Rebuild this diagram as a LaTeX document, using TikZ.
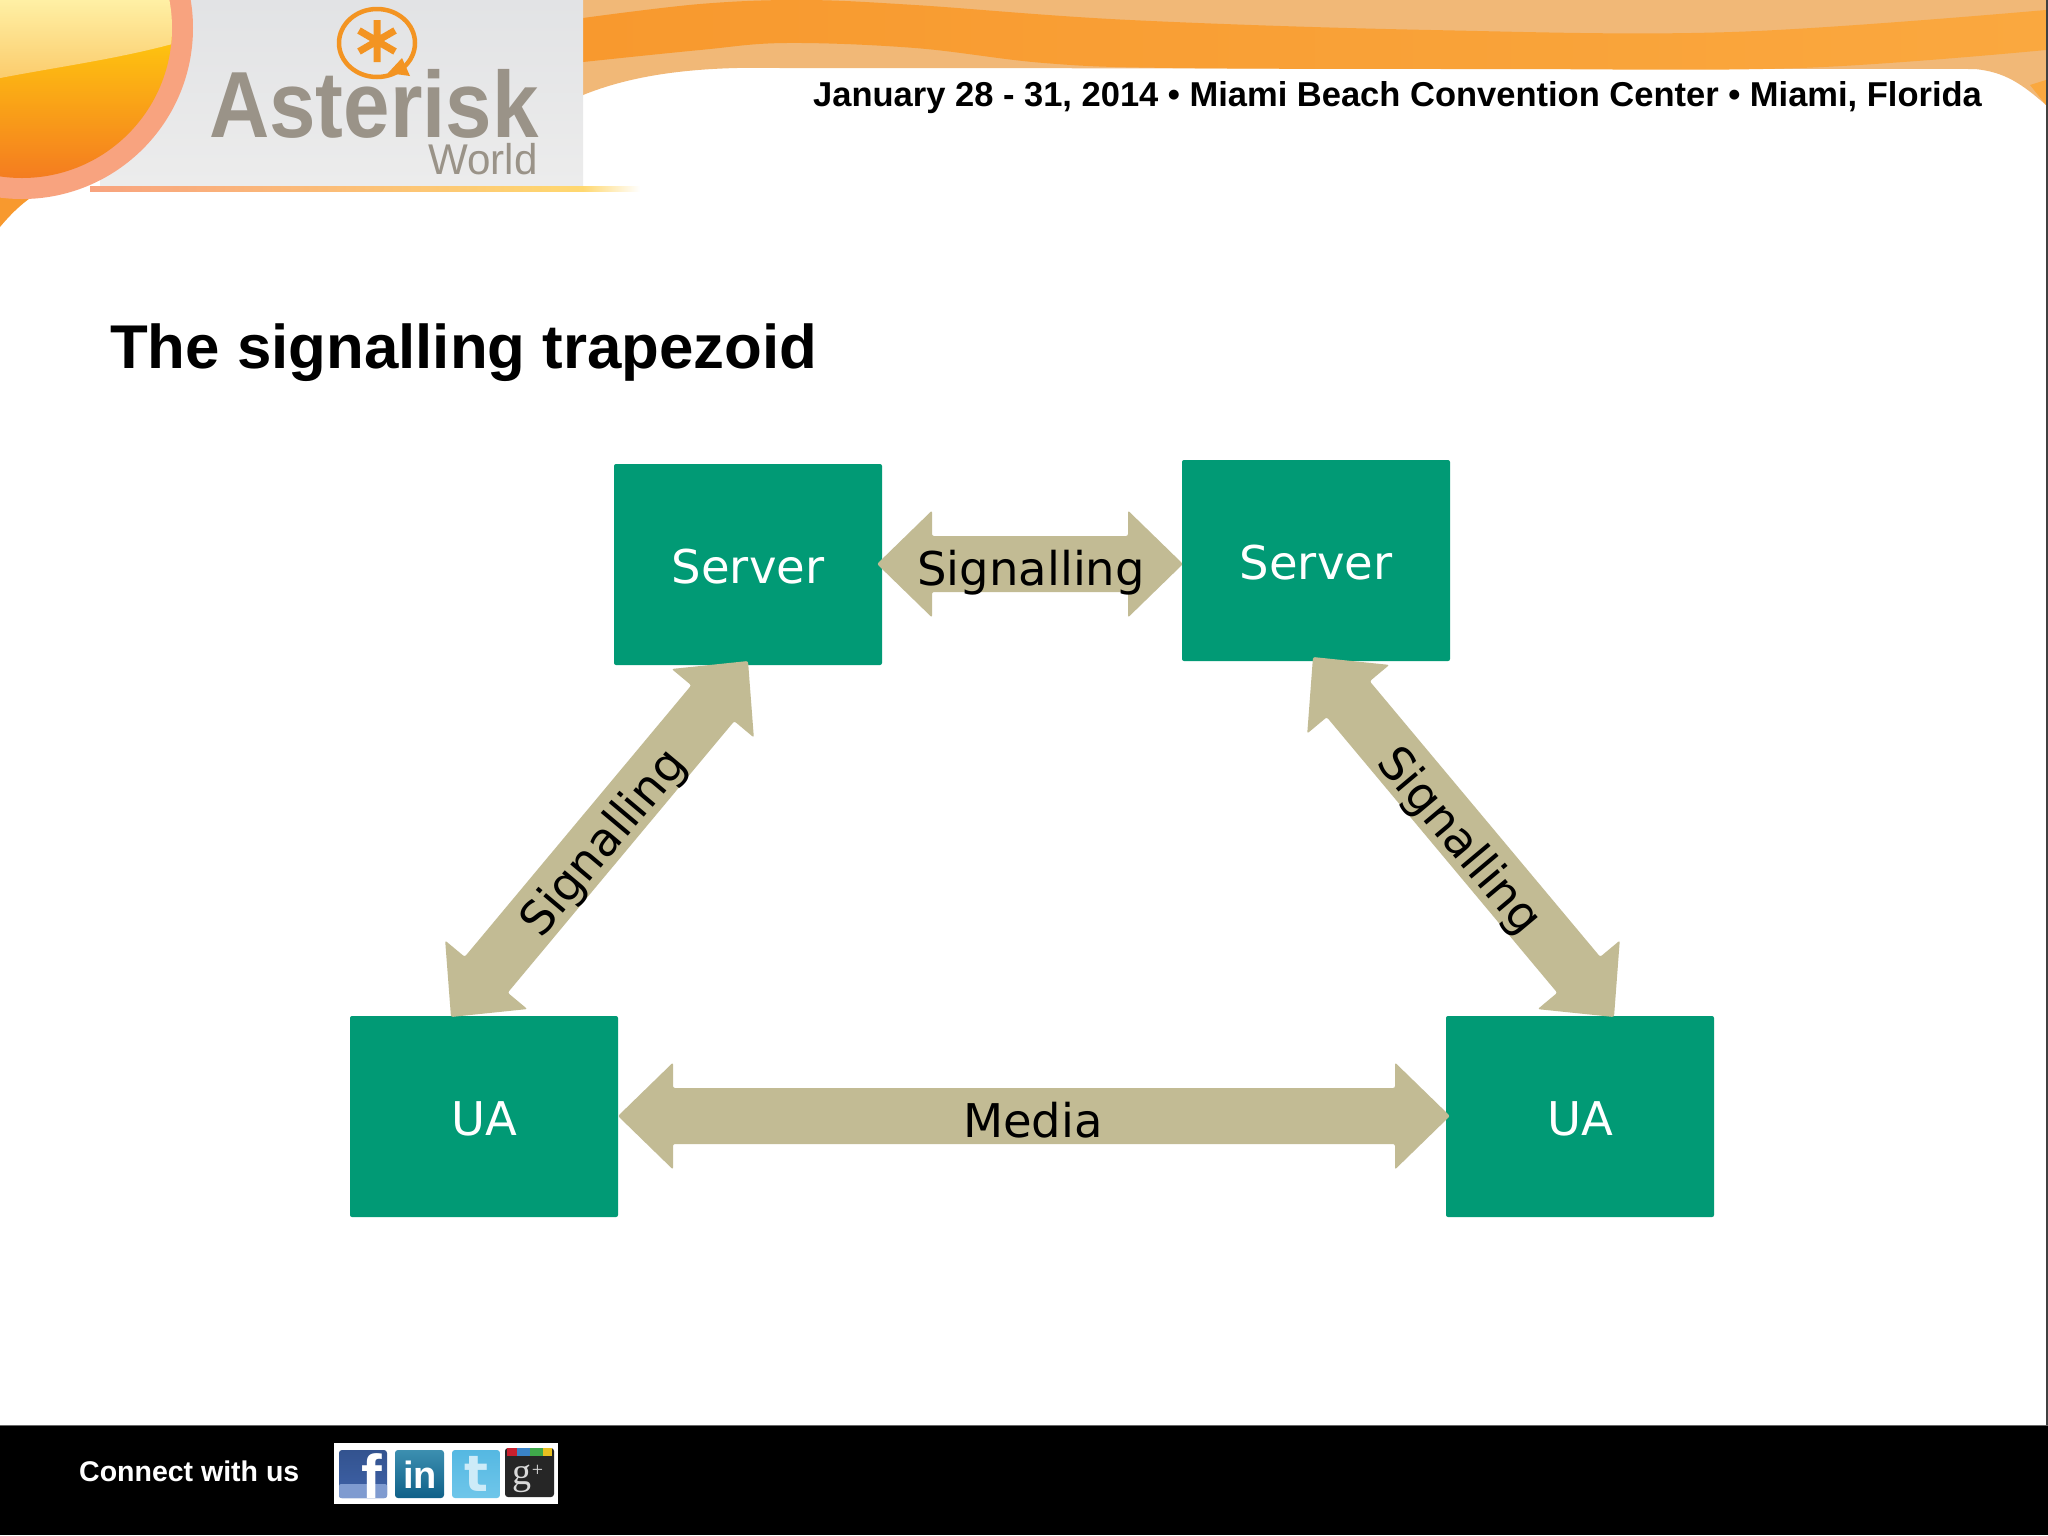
\documentclass[tikz,border=0pt]{standalone}
\usepackage{fontspec}
\setmainfont{Liberation Sans}
\newfontfamily\labelfont{DejaVu Sans}
\newfontfamily\serifpart{Liberation Serif}
\usetikzlibrary{calc}
\definecolor{boxgreen}{HTML}{019A75}
\definecolor{armtan}{HTML}{C2BB94}
\definecolor{bandlight}{HTML}{F1B877}
\definecolor{bandmid}{HTML}{F8992E}
\definecolor{bandend}{HTML}{FAA83F}
\definecolor{logogrey}{HTML}{9A9388}
\definecolor{logoorange}{HTML}{F39422}
\definecolor{ringpink}{HTML}{F8A37F}
\definecolor{panelgrey}{HTML}{E2E3E5}
\definecolor{panelmid}{HTML}{D9DADC}
\definecolor{panellow}{HTML}{ECECEC}
\definecolor{hilitetop}{HTML}{FFF2A8}
\definecolor{hilitelow}{HTML}{FBCB6B}
\definecolor{spheretop}{HTML}{FFC90E}
\definecolor{spherelow}{HTML}{F47C20}
\definecolor{stripeyellow}{HTML}{FFD870}
\newcommand{\fsz}[1]{\fontsize{#1}{#1}\selectfont}
\tikzset{
  entity/.style={fill=boxgreen, rounded corners=2pt, minimum width=268pt, minimum height=201pt, inner sep=0pt},
  entitytext/.style={inner sep=0pt, text=white, font=\labelfont\fsz{46.5}},
  armlabel/.style={inner sep=0pt, text=black, font=\labelfont\fsz{46.5}},
  armshape/.style={fill=armtan, rounded corners=2pt},
  iconbox/.style={rounded corners=3pt},
  icontext/.style={inner sep=0pt, text=white, font=\bfseries\fsz{40}}
}
\newcommand{\blockarrow}[2]{%
  \coordinate (hA) at ($(#1)!55pt!(#2)$);
  \coordinate (hB) at ($(#2)!55pt!(#1)$);
  \path[armshape] (#1) -- ($(hA)!53.5pt!90:(#2)$) -- ($(hA)!28pt!90:(#2)$)
    -- ($(hB)!28pt!-90:(#1)$) -- ($(hB)!53.5pt!-90:(#1)$) -- (#2)
    -- ($(hB)!53.5pt!90:(#1)$) -- ($(hB)!28pt!90:(#1)$)
    -- ($(hA)!28pt!-90:(#2)$) -- ($(hA)!53.5pt!-90:(#2)$) -- cycle;
}
\begin{document}
\begin{tikzpicture}[x=1pt,y=-1pt]
\useasboundingbox (0,0) rectangle (2048,1535);
\fill[white] (0,0) rectangle (2048,1535);
\begin{scope}
\clip (0,0) rectangle (2048,1535);
% header bands
\fill[bandlight] (583,0) -- (2046,0) -- (2046,105) .. controls (2022,84) and (2005,72) .. (1975,69) -- (780,68) .. controls (690,66) and (630,76) .. (583,95) -- cycle;
\shade[left color=bandmid, right color=bandend]
  plot[smooth,tension=.6] coordinates {(583,18) (700,4) (803,0) (915,5) (1130,20) (1431,30) (1732,32) (2046,10)}
  -- plot[smooth,tension=.6] coordinates {(2046,50) (1800,68) (1500,69) (1173,68) (1044,63) (915,48) (786,43) (700,50) (583,62)} -- cycle;
\fill[bandend] (2030,85) -- (2046,80) -- (2046,105) -- cycle;
% bottom-left orange corner
\fill[bandmid] (0,150) -- (60,170) -- (33,196) .. controls (20,205) and (10,215) .. (0,227) -- cycle;
% grey logo panel
\shade[top color=panelgrey, middle color=panelmid, bottom color=panellow] (100,0) rectangle (583,185);
\shade[left color=ringpink, right color=stripeyellow] (90,186) rectangle (583,191);
\shade[left color=stripeyellow, right color=white] (583,186) rectangle (640,191);
% sphere
\fill[ringpink] (22,28) circle (171);
\begin{scope}
\clip (22,28) circle (150);
\shade[top color=spheretop, bottom color=spherelow] (-10,30) rectangle (180,178);
\shade[top color=hilitetop, bottom color=hilitelow] (-10,-5) -- (200,-5) -- (200,36) .. controls (130,58) and (60,66) .. (-10,80) -- cycle;
\end{scope}
\end{scope}
% logo
\draw[logoorange, line width=4.5pt] (377,43) ellipse (38 and 34);
\fill[logoorange] (388,73) -- (410,76) -- (402,58) -- cycle;
\draw[logoorange, line width=7pt]
  (377,20) -- (377,62) (359,30.5) -- (395,51.5) (359,51.5) -- (395,30.5);
\node[anchor=base west, inner sep=0pt, text=logogrey, xscale=.888, font=\bfseries\fsz{94}] (logoword) at (209,137) {Asterisk};
\node[anchor=base west, inner sep=0pt, text=logogrey, xscale=.98, font=\fsz{43}] (logoworld) at (428,174) {World};
% header strapline
\node[anchor=base west, inner sep=0pt, text=black, font=\bfseries\fsz{34.5}] (strap) at (813,106) {January 28 - 31, 2014 • Miami Beach Convention Center • Miami, Florida};
% page edge
\draw[black!75, line width=1.5pt] (2047,0) -- (2047,1425);
% title
\node[anchor=base west, inner sep=0pt, text=black, font=\bfseries\fsz{61.8}] (title) at (110,368) {The signalling trapezoid};
% arrows
\coordinate (tipA) at (877,564);
\coordinate (tipB) at (1183,564);
\coordinate (tipC) at (748,661);
\coordinate (tipD) at (451,1017);
\coordinate (tipE) at (1313,657);
\coordinate (tipF) at (1614,1017);
\coordinate (tipG) at (618,1116);
\coordinate (tipH) at (1450,1116);
% boxes
\node[entity] (serverL) at (748,564.5) {};
\node[entity] (serverR) at (1316,560.5) {};
\node[entity] (uaL) at (484,1116.5) {};
\node[entity] (uaR) at (1580,1116.5) {};
\node[entitytext] (serverLtext) at (748,566.5) {Server};
\node[entitytext] (serverRtext) at (1316,562.5) {Server};
\node[entitytext] (uaLtext) at (484,1118.5) {UA};
\node[entitytext] (uaRtext) at (1580,1118.5) {UA};
\blockarrow{tipA}{tipB}
\blockarrow{tipC}{tipD}
\blockarrow{tipE}{tipF}
\blockarrow{tipG}{tipH}
\node[armlabel] (sigTop) at (1031,572.5) {Signalling};
\node[armlabel, rotate=50] (sigLeft) at (605,844) {Signalling};
\node[armlabel, rotate=-50] (sigRight) at (1458,842) {Signalling};
\node[armlabel] (media) at (1033,1120) {Media};
% footer
\fill[black] (0,1425) rectangle (2048,1535);
\draw[black!60, line width=1pt] (0,1425) -- (2048,1425);
\node[anchor=base west, inner sep=0pt, text=white, font=\bfseries\fsz{28.5}] (connect) at (79,1481) {Connect with us};
\fill[white] (334,1443) rectangle (558,1504);
% facebook
\definecolor{fbtop}{HTML}{33538F}\definecolor{fblow}{HTML}{3F62A8}\definecolor{fbstrip}{HTML}{7F9BD0}
\shade[iconbox, top color=fbtop, bottom color=fblow] (339,1450) rectangle (387,1498);
\fill[fbstrip, rounded corners=2pt] (339,1484) rectangle (387,1498);
\node[icontext, anchor=base, font=\bfseries\fsz{62}] (fb) at (372,1498) {f};
% linkedin
\definecolor{litop}{HTML}{3C8FB0}\definecolor{lilow}{HTML}{0F6088}
\shade[iconbox, top color=litop, bottom color=lilow] (395,1450) rectangle (444,1498);
\node[icontext, font=\bfseries\fsz{38}, anchor=base] (li) at (420,1488) {in};
% twitter
\definecolor{twtop}{HTML}{55B8E2}\definecolor{twlow}{HTML}{6FC6EA}\definecolor{twtext}{HTML}{CDEBF8}
\shade[iconbox, top color=twtop, bottom color=twlow] (452,1450) rectangle (500,1498);
\node[icontext, text=twtext, font=\labelfont\bfseries\fsz{50}, anchor=base] (tw) at (476,1491) {t};
% google plus
\definecolor{gred}{HTML}{C8202E}\definecolor{gblue}{HTML}{3A84C8}\definecolor{ggreen}{HTML}{3FA84A}\definecolor{gyellow}{HTML}{E8C020}
\fill[black!85, rounded corners=3pt] (505,1448) rectangle (554,1497);
\fill[gred] (507,1448) rectangle (517,1456);
\fill[gblue] (517,1448) rectangle (530,1456);
\fill[ggreen] (530,1448) rectangle (543,1456);
\fill[gyellow] (543,1448) rectangle (552,1456);
\node[inner sep=0pt, text=white!85!black, font=\serifpart\fsz{38}, anchor=base] (gp) at (528,1484) {g\raisebox{8pt}{\fsz{20}+}};
\end{tikzpicture}
\end{document}
